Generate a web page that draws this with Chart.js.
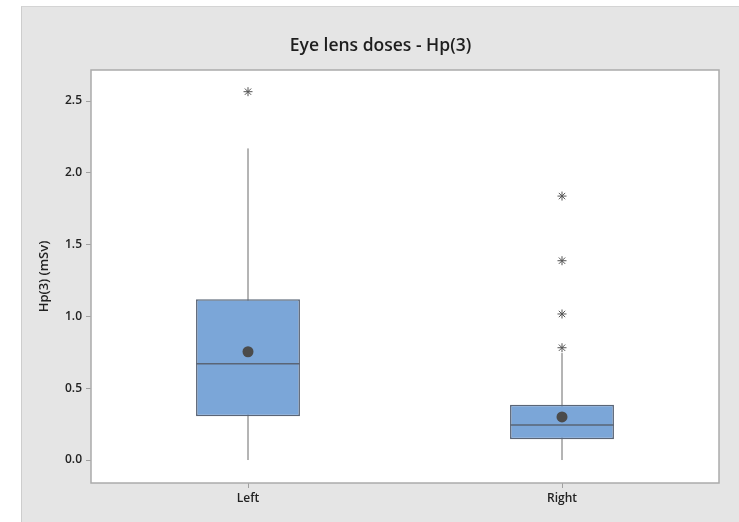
<!DOCTYPE html>
<html>
<head>
<meta charset="utf-8">
<script src="https://cdn.jsdelivr.net/npm/chart.js@4.4.1/dist/chart.umd.min.js"></script>
<style>
  html, body { margin: 0; padding: 0; background: #fff; }
  #frame {
    position: absolute; left: 21px; top: 6px;
    width: 718px; height: 516px;
    background: #e5e5e5;
    border-left: 1px solid #cdcdcd; border-top: 1px solid #d4d4d4;
    box-sizing: border-box;
  }
  canvas { position: absolute; left: 0; top: 0; }
</style>
</head>
<body>
<div id="frame"><canvas id="chart" width="717" height="515"></canvas></div>
<script>
// Box plot values (mSv)
const categories = ["Left", "Right"];
const q1 = [0.304, 0.144];
const q3 = [1.12, 0.385];
const medians = [0.67, 0.244];
const means = [0.754, 0.30];
const whiskerLow = [0.0, 0.0];
const whiskerHigh = [2.17, 0.745];
const outliers = [[2.565], [0.782, 1.017, 1.388, 1.838]];
const yTicks = [0, 0.5, 1.0, 1.5, 2.0, 2.5];

const BOX_PCT = 0.331;
const FONT = "'Open Sans', 'Noto Sans', sans-serif";

// categories sit at 0.5, 1.5 ... on a linear x axis
const pos = categories.map((c, i) => i + 0.5);

// whiskers: one vertical segment per box, broken by nulls
const whiskerData = [];
pos.forEach((x, i) => {
  whiskerData.push({ x: x, y: whiskerLow[i] }, { x: x, y: whiskerHigh[i] }, { x: x, y: null });
});

const medianData = [];
pos.forEach((x, i) => {
  medianData.push({ x: x - BOX_PCT / 2, y: medians[i] }, { x: x + BOX_PCT / 2, y: medians[i] }, { x: x, y: null });
});

const meanData = pos.map((x, i) => ({ x: x, y: means[i] }));
const outlierData = [];
pos.forEach((x, i) => outliers[i].forEach(v => outlierData.push({ x: x, y: v })));

const plotFrame = {
  id: "plotFrame",
  beforeDraw(chart) {
    const { ctx, chartArea: a } = chart;
    ctx.save();
    ctx.fillStyle = "#ffffff";
    ctx.fillRect(a.left, a.top, a.right - a.left, a.bottom - a.top);
    ctx.restore();
  },
  afterDatasetsDraw(chart) {
    const { ctx, chartArea: a } = chart;
    ctx.save();
    ctx.strokeStyle = "#ababab";
    ctx.lineWidth = 1.5;
    ctx.strokeRect(a.left, a.top, a.right - a.left, a.bottom - a.top);
    ctx.restore();
  }
};

const tickFont = { family: FONT, size: 12, weight: "600" };

new Chart(document.getElementById("chart"), {
  type: "bar",
  data: {
    datasets: [
      {
        type: "bar",
        data: pos.map((x, i) => ({ x: x, y: [q1[i], q3[i]] })),
        backgroundColor: "#7ba6d8",
        borderColor: "#5a6576",
        borderWidth: 1.5,
        borderSkipped: false,
        barPercentage: BOX_PCT,
        categoryPercentage: 1,
        order: 2
      },
      {
        type: "line",
        data: whiskerData,
        borderColor: "#6b6b6b",
        borderWidth: 1,
        pointRadius: 0,
        spanGaps: false,
        order: 3
      },
      {
        type: "line",
        data: medianData,
        borderColor: "#5a6576",
        borderWidth: 1.5,
        pointRadius: 0,
        spanGaps: false,
        order: 1
      },
      {
        type: "line",
        data: meanData,
        showLine: false,
        pointRadius: 5.5,
        pointBackgroundColor: "#4b4b4b",
        pointBorderColor: "#4b4b4b",
        pointBorderWidth: 0,
        order: 0
      },
      {
        type: "line",
        data: outlierData,
        showLine: false,
        pointStyle: "star",
        pointRadius: 4.5,
        pointBorderColor: "#555555",
        pointBorderWidth: 1,
        order: 0
      }
    ]
  },
  options: {
    responsive: false,
    animation: false,
    devicePixelRatio: 1,
    layout: { padding: 0 },
    plugins: {
      legend: { display: false },
      tooltip: { enabled: false },
      title: {
        display: true,
        text: "Eye lens doses - Hp(3)",
        color: "#1e1e1e",
        font: { family: FONT, size: 17.5, weight: "600" },
        padding: { top: 28.5, bottom: 13.5 }
      }
    },
    scales: {
      x: {
        type: "linear",
        offset: false,
        min: 0,
        max: categories.length,
        afterBuildTicks(s) { s.ticks = pos.map(v => ({ value: v })); },
        grid: { display: true, offset: false, drawOnChartArea: false, drawTicks: true, tickLength: 5, color: "#a0a0a0" },
        border: { display: false },
        ticks: {
          color: "#222",
          padding: 3,
          font: tickFont,
          callback: (v) => categories[Math.round(v - 0.5)]
        },
        afterFit(s) { s.height = 39; }
      },
      y: {
        min: -0.16,
        max: 2.716,
        afterBuildTicks(s) { s.ticks = yTicks.map(v => ({ value: v })); },
        grid: { display: true, drawOnChartArea: false, drawTicks: true, tickLength: 5, color: "#a0a0a0" },
        border: { display: false },
        ticks: {
          color: "#222",
          padding: 4,
          font: tickFont,
          callback: v => v.toFixed(1)
        },
        title: {
          display: true,
          text: "Hp(3) (mSv)",
          color: "#222",
          font: { family: FONT, size: 13, weight: "600" },
          padding: { top: 14, bottom: 0 }
        },
        afterFit(s) { s.width = 69; }
      },
      yr: {
        position: "right",
        display: true,
        grid: { display: false },
        border: { display: false },
        ticks: { display: false },
        afterFit(s) { s.width = 20; }
      }
    }
  },
  plugins: [plotFrame]
});
</script>
</body>
</html>
